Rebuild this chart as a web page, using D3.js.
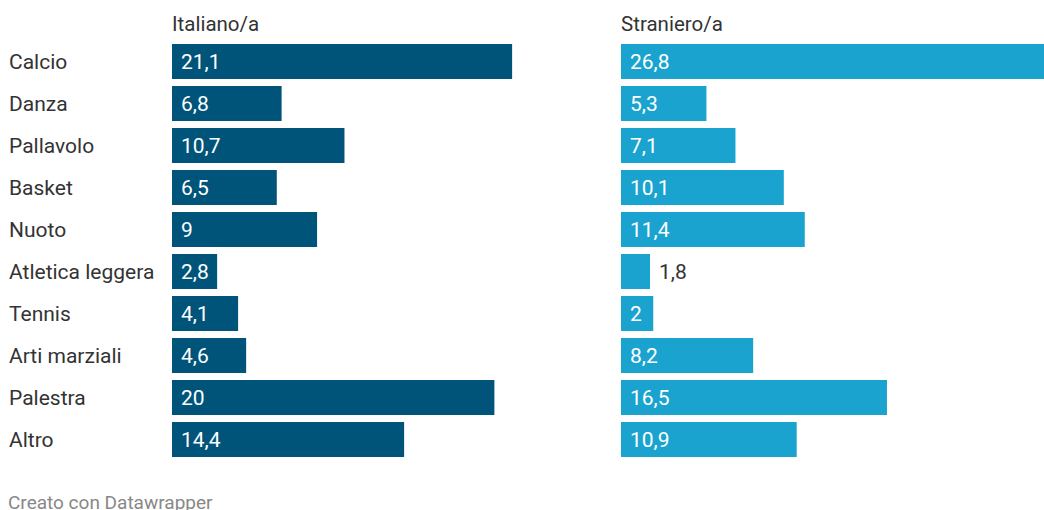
<!DOCTYPE html>
<html>
<head>
<meta charset="utf-8">
<script src="https://cdn.jsdelivr.net/npm/d3@7"></script>
<style>
  body { margin: 0; background: #fff; }
  svg { display: block; font-family: Roboto, sans-serif; }
</style>
</head>
<body>
<svg id="chart"></svg>
<script>
var categories = ['Calcio','Danza','Pallavolo','Basket','Nuoto','Atletica leggera','Tennis','Arti marziali','Palestra','Altro'];
var italiano = [21.1, 6.8, 10.7, 6.5, 9, 2.8, 4.1, 4.6, 20, 14.4];
var straniero = [26.8, 5.3, 7.1, 10.1, 11.4, 1.8, 2, 8.2, 16.5, 10.9];
var seriesNames = ['Italiano/a', 'Straniero/a'];
var colors = ['#00547a', '#1ba3cf'];

var w = 1044, h = 510;
var svg = d3.select('#chart').attr('width', w).attr('height', h);

var y = d3.scaleBand()
  .domain(categories)
  .range([40.5, 460.5])
  .paddingInner(0.167)
  .paddingOuter(0.0835);

// shared scale for both panels
var x = d3.scaleLinear()
  .domain([0, d3.max(italiano.concat(straniero))])
  .range([0, 432]);

var panelX = [172, 621];
var fmt = function(v) { return String(v).replace('.', ','); };

// category labels
svg.append('g').selectAll('text')
  .data(categories)
  .enter().append('text')
  .attr('x', 9)
  .attr('y', d => y(d) + y.bandwidth() / 2)
  .attr('dy', '0.35em')
  .attr('font-size', 21)
  .attr('fill', '#333')
  .text(d => d);

[italiano, straniero].forEach(function(values, s) {
  var g = svg.append('g').attr('transform', 'translate(' + panelX[s] + ',0)');

  g.append('text')
    .attr('x', 0)
    .attr('y', 31)
    .attr('font-size', 20.5)
    .attr('fill', '#333')
    .text(seriesNames[s]);

  g.selectAll('rect')
    .data(values)
    .enter().append('rect')
    .attr('x', 0)
    .attr('y', (d, i) => y(categories[i]))
    .attr('width', d => x(d))
    .attr('height', y.bandwidth())
    .attr('fill', colors[s]);

  g.selectAll('text.val')
    .data(values)
    .enter().append('text')
    .attr('class', 'val')
    .attr('x', d => x(d) < 31 ? x(d) + 9 : 9)
    .attr('y', (d, i) => y(categories[i]) + y.bandwidth() / 2)
    .attr('dy', '0.35em')
    .attr('font-size', 21)
    .attr('fill', d => x(d) < 31 ? '#333' : '#fff')
    .text(fmt);
});

svg.append('text')
  .attr('x', 8)
  .attr('y', 509)
  .attr('font-size', 19)
  .attr('fill', '#888')
  .text('Creato con Datawrapper');
</script>
</body>
</html>
